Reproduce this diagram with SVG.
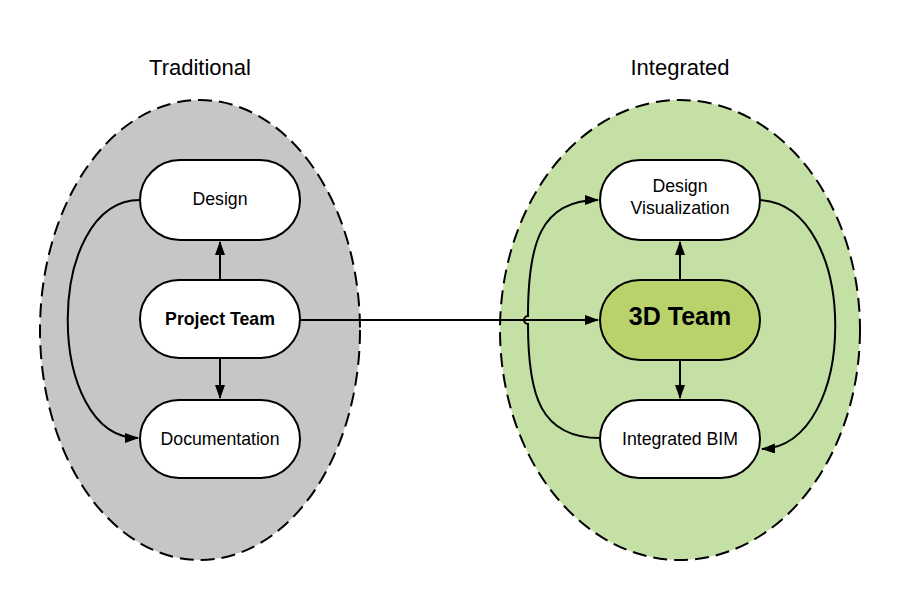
<svg xmlns="http://www.w3.org/2000/svg" width="900" height="600" viewBox="0 0 900 600">
<defs>
<marker id="ah" markerWidth="14" markerHeight="10" refX="13" refY="5" orient="auto" markerUnits="userSpaceOnUse">
<path d="M0,0 L14,5 L0,10 Z" fill="#000"/>
</marker>
<style>
.grp{stroke:#000;stroke-width:2;stroke-dasharray:14,7}
.node{fill:#fff;stroke:#000;stroke-width:2}
.t{font-family:"Liberation Sans",Arial,sans-serif;font-size:17.7px;fill:#000;text-anchor:middle}
.title{font-family:"Liberation Sans",Arial,sans-serif;font-size:22px;fill:#000;text-anchor:middle}
.c{fill:none;stroke:#000;stroke-width:2}
</style>
</defs>
<rect width="900" height="600" fill="#fff"/>
<g id="traditional">
<ellipse cx="200" cy="330" rx="160" ry="230" fill="#c6c6c6" class="grp"/>
<text class="title" x="200" y="75">Traditional</text>
</g>
<g id="integrated">
<ellipse cx="680" cy="330" rx="180" ry="230" fill="#c5e0a5" class="grp"/>
<text class="title" x="680" y="75">Integrated</text>
</g>
<g id="connectors">
<path class="c" d="M140,200 C44,200 44,438 138,438" marker-end="url(#ah)"/>
<path class="c" d="M220,280 L220,242" marker-end="url(#ah)"/>
<path class="c" d="M220,358 L220,398" marker-end="url(#ah)"/>
<path class="c" d="M300,320 L598,320" marker-end="url(#ah)"/>
<path class="c" d="M600,438 C540,438 528,395 528,324 A4,4 0 0 1 528,316 C528,245 540,200 598,200" marker-end="url(#ah)"/>
<path class="c" d="M760,200 C860,205 860,445 762,449" marker-end="url(#ah)"/>
<path class="c" d="M680,280 L680,242" marker-end="url(#ah)"/>
<path class="c" d="M680,360 L680,398" marker-end="url(#ah)"/>
</g>
<g id="design">
<rect class="node" x="140" y="160" width="160" height="80" rx="40"/>
<text class="t" x="220" y="205">Design</text>
</g>
<g id="project-team">
<rect class="node" x="140" y="280" width="160" height="78" rx="39"/>
<text class="t" x="220" y="325" font-weight="bold">Project Team</text>
</g>
<g id="documentation">
<rect class="node" x="140" y="400" width="160" height="78" rx="39"/>
<text class="t" x="220" y="445">Documentation</text>
</g>
<g id="design-visualization">
<rect class="node" x="600" y="160" width="160" height="80" rx="40"/>
<text class="t" x="680" y="192">Design</text>
<text class="t" x="680" y="214">Visualization</text>
</g>
<g id="team-3d">
<rect class="node" x="600" y="280" width="160" height="80" rx="40" style="fill:#b9d26c"/>
<text class="t" x="680" y="325" font-weight="bold" style="font-size:25px">3D Team</text>
</g>
<g id="integrated-bim">
<rect class="node" x="600" y="400" width="160" height="78" rx="39"/>
<text class="t" x="680" y="445">Integrated BIM</text>
</g>
</svg>
